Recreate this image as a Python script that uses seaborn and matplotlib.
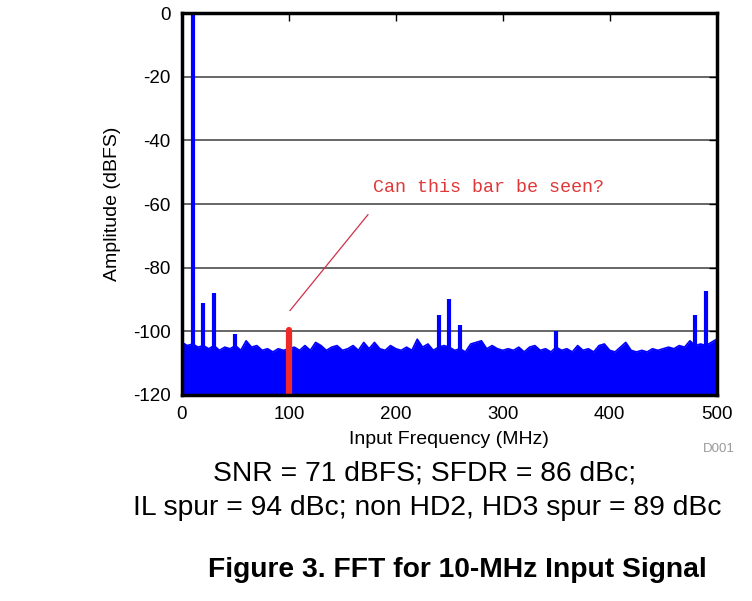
import numpy as np
import pandas as pd
import matplotlib
matplotlib.use("Agg")
import matplotlib.pyplot as plt
import seaborn as sns

# ---- data ----
floor_freq = list(range(0, 505, 5))
floor_db = [
    -103.5, -104.5, -104.0, -105.0, -104.5, -105.5, -104.5, -106.0, -105.0, -105.5,
    -104.5, -106.0, -103.0, -105.0, -104.5, -106.0, -105.5, -106.5, -105.5, -106.0,
    -105.5, -105.0, -106.0, -104.5, -106.0, -103.5, -104.5, -106.0, -105.0, -104.5,
    -106.0, -105.5, -104.5, -106.0, -103.5, -105.5, -103.5, -105.5, -106.0, -104.5,
    -105.5, -106.0, -105.0, -106.0, -102.5, -105.0, -104.0, -106.0, -105.0, -104.5,
    -105.0, -106.0, -105.5, -106.5, -104.0, -103.5, -103.0, -105.5, -104.5, -105.5,
    -106.0, -105.5, -106.0, -105.0, -106.5, -105.0, -104.5, -106.0, -105.5, -106.5,
    -105.0, -106.0, -105.5, -106.5, -104.5, -106.0, -105.5, -106.5, -104.5, -104.0,
    -106.0, -106.5, -105.0, -103.5, -106.0, -106.5, -106.0, -106.5, -105.5, -106.0,
    -105.5, -105.0, -105.5, -104.5, -105.0, -103.0, -104.5, -104.0, -104.5, -103.5,
    -102.5,
]
spike_freq = [10, 20, 30, 50, 240, 250, 260, 350, 480, 490]
spike_db = [0, -91, -88, -101, -95, -90, -98, -100, -95, -87.5]
marked_freq = [100]
marked_db = [-99.5]

x_ticks = [0, 100, 200, 300, 400, 500]
y_ticks = [0, -20, -40, -60, -80, -100, -120]

floor_df = pd.DataFrame({"freq": floor_freq, "db": floor_db})

sns.set_theme(style="white")
plt.rcParams["font.family"] = ["Liberation Sans", "DejaVu Sans"]
plt.rcParams["axes.unicode_minus"] = False
plt.rcParams["text.color"] = "black"
plt.rcParams["axes.labelcolor"] = "black"

fig = plt.figure(figsize=(7.52, 6.01), dpi=100)
ax = fig.add_axes([0.242, 0.343, 0.711, 0.635])

blue = "#0000ff"
ax.set_axisbelow(True)
for yv in y_ticks[1:-1]:
    ax.axhline(yv, color="#4d4d4d", lw=1.2, zorder=0)

sns.lineplot(data=floor_df, x="freq", y="db", ax=ax, color=blue, lw=1.2, zorder=2)
ax.fill_between(floor_df["freq"], floor_df["db"], -120, color=blue, lw=0, zorder=2)
ax.vlines(spike_freq, -120, spike_db, color=blue, lw=3, zorder=3)
ax.vlines(marked_freq, -120, marked_db, color="#ee2a2a", lw=4.5, zorder=4, capstyle="round")

ax.plot([101, 174], [-93.5, -63.3], color="#d0304a", lw=0.9, zorder=5)
ax.text(178.5, -54.8, "Can this bar be seen?", color="#e03838",
        family=["Liberation Mono", "DejaVu Sans Mono"], fontsize=13.2,
        va="center", ha="left")

ax.set_xlim(0, 500)
ax.set_ylim(-120, 0)
ax.set_xticks(x_ticks)
ax.set_yticks(y_ticks)
ax.tick_params(direction="in", length=6, width=1, top=True, right=True,
               labelsize=13.5, colors="black", labelcolor="black", pad=8)
ax.set_xlabel("Input Frequency (MHz)", fontsize=14, labelpad=6)
ax.set_ylabel("Amplitude (dBFS)", fontsize=14, labelpad=9)
for s in ax.spines.values():
    s.set_color("black")
    s.set_linewidth(2.5)
    s.set_zorder(6)

fig.text(735 / 752, 1 - 449 / 601, "D001", color="#999999", fontsize=9.5,
         ha="right", va="center")
fig.text(425 / 752, 1 - 473 / 601, "SNR = 71 dBFS; SFDR = 86 dBc;",
         fontsize=20.3, ha="center", va="center")
fig.text(427 / 752, 1 - 508 / 601, "IL spur = 94 dBc; non HD2, HD3 spur = 89 dBc",
         fontsize=20.3, ha="center", va="center")
fig.text(457 / 752, 1 - 570 / 601, "Figure 3. FFT for 10-MHz Input Signal",
         fontsize=20.3, fontweight="bold", ha="center", va="center")

fig.savefig("out.png", dpi=100)
